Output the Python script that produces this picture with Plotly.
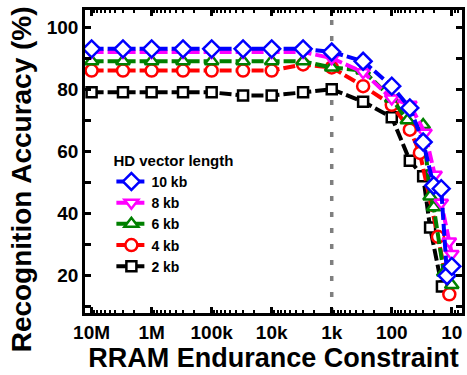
import plotly.graph_objects as go

# ---- data ----
head_x = [1e7, 3e6, 1e6, 3e5, 1e5, 3e4, 1e4, 3e3, 1e3, 300]

x_10kb = head_x + [100, 50, 30, 20, 15, 12, 10]
y_10kb = [93, 93, 93, 93, 93, 93, 93, 93, 92, 89, 81, 74, 63, 49, 48, 20, 23]

x_8kb = head_x + [100, 50, 28, 19, 15, 11, 10]
y_8kb = [92, 92, 92, 92, 92, 92, 92, 92, 90, 85.5, 77, 75, 66, 52.5, 43.5, 31, 27]

x_6kb = head_x + [100, 55, 30, 23, 20, 13.6, 10]
y_6kb = [89, 89, 89, 89, 89, 89, 89, 89, 87, 86, 77, 70, 68.5, 45.5, 42, 21, 17]

x_4kb = head_x + [100, 50, 34, 17, 11]
y_4kb = [86, 86, 86, 86, 86, 86, 86, 88, 87, 81, 75, 67, 59.5, 32.5, 14]

x_2kb = head_x + [100, 50, 30, 23, 14.6]
y_2kb = [79, 79, 79, 79, 79, 78, 78, 79, 80, 76, 71, 57, 52, 35.5, 16.5]

series_names = ["2 kb", "4 kb", "6 kb", "8 kb", "10 kb"]
x_tickvals = [1e7, 1e6, 1e5, 1e4, 1e3, 100, 10]
x_ticktext = ["10M", "1M", "100k", "10k", "1k", "100", "10"]
y_tickvals = [20, 40, 60, 80, 100]
constraint_x = 1e3

# ---- styling ----
FONT = "Liberation Sans, Arial, sans-serif"
styles = [
    ("black", "square"),
    ("#ff0000", "circle"),
    ("#008000", "triangle-up"),
    ("#ff00ff", "triangle-down"),
    ("#0000ff", "diamond"),
]
xs = [x_2kb, x_4kb, x_6kb, x_8kb, x_10kb]
ys = [y_2kb, y_4kb, y_6kb, y_8kb, y_10kb]

fig = go.Figure()

# vertical dashed constraint line
fig.add_trace(go.Scatter(
    x=[constraint_x, constraint_x], y=[8, 105.5], mode="lines",
    line=dict(color="#7f7f7f", width=3.5, dash="5px,11px"),
    showlegend=False, hoverinfo="skip"))

for name, (col, sym), xv, yv in zip(series_names, styles, xs, ys):
    msize = 13 if sym in ("diamond",) else 12
    if sym == "square":
        msize = 10
    fig.add_trace(go.Scatter(
        x=xv, y=yv, name=name, mode="lines+markers",
        line=dict(color=col, width=4, dash="12px,4px"),
        marker=dict(symbol=sym, size=msize, color="white",
                    line=dict(color=col, width=2.5)),
    ))

minor_x = []
for d in range(0, 8):
    for m in range(2, 10):
        v = m * 10 ** d
        if 6 <= v <= 1.3e7:
            minor_x.append(v)

fig.update_layout(
    width=467, height=375,
    margin=dict(l=85, r=2, t=10, b=62),
    paper_bgcolor="white", plot_bgcolor="white",
    font=dict(family=FONT, size=19, color="black", weight="bold"),
    showlegend=True,
    legend=dict(
        title=dict(text="HD vector length", font=dict(size=15, family=FONT, weight="bold")),
        font=dict(size=14, family=FONT, weight="bold"),
        traceorder="reversed",
        x=0.07, y=0.55, xanchor="left", yanchor="top",
        bgcolor="rgba(0,0,0,0)", tracegroupgap=0,
    ),
    xaxis=dict(
        type="log", range=[7.11, 0.83],
        tickmode="array", tickvals=x_tickvals, ticktext=x_ticktext,
        ticks="inside", ticklen=6, tickwidth=2.5, tickcolor="black",
        minor=dict(ticks="inside", ticklen=3, tickwidth=1.5, tickcolor="black",
                   tickmode="array", tickvals=minor_x, showgrid=False),
        showline=True, linewidth=2.5, linecolor="black", mirror="allticks",
        showgrid=False, zeroline=False,
        tickfont=dict(size=19, family=FONT, weight="bold"),
        title=dict(text="RRAM Endurance Constraint",
                   font=dict(size=27, family=FONT, weight="bold"), standoff=5),
    ),
    yaxis=dict(
        range=[8, 105.5], tickmode="array", tickvals=y_tickvals,
        ticks="inside", ticklen=6, tickwidth=2.5, tickcolor="black",
        minor=dict(ticks="inside", ticklen=6, tickwidth=2.5, tickcolor="black", dtick=10, tick0=0),
        showline=True, linewidth=2.5, linecolor="black", mirror="allticks",
        showgrid=False, zeroline=False,
        tickfont=dict(size=19, family=FONT, weight="bold"),
    ),
    annotations=[dict(
        text="Recognition Accuracy (%)", textangle=-90,
        xref="paper", yref="paper", x=-0.168, y=0.44,
        xanchor="center", yanchor="middle", showarrow=False,
        font=dict(size=28, family=FONT, weight="bold", color="black"))],
)

fig.write_html("out.html")
